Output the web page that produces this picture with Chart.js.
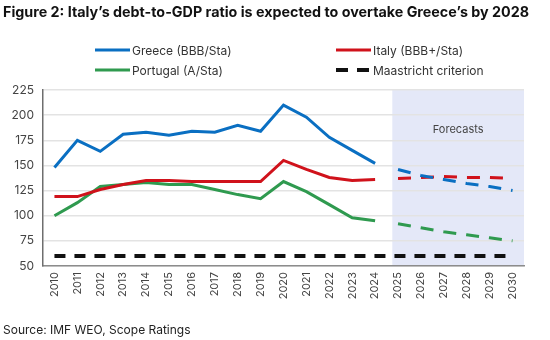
<!DOCTYPE html>
<html>
<head>
<meta charset="utf-8">
<script src="https://cdn.jsdelivr.net/npm/chart.js@4.4.1/dist/chart.umd.min.js"></script>
<style>
  html, body { margin: 0; padding: 0; background: #fff; }
  #wrap { position: relative; width: 550px; height: 340px; overflow: hidden; font-family: Inter, "Noto Sans", sans-serif; }
  #title { position: absolute; left: 3px; top: 3px; font-size: 14.3px; font-weight: 700; color: #111; white-space: nowrap; }
  #source { position: absolute; left: 3px; top: 322px; font-size: 12px; color: #222; white-space: nowrap; }
  #legend { position: absolute; left: 0; top: 0; }
  .item { position: absolute; display: flex; align-items: center; font-size: 12px; color: #333; white-space: nowrap; }
  .item canvas { margin-right: 2px; }
  #chart { position: absolute; left: 0; top: 0; }
</style>
</head>
<body>
<div id="wrap">
  <canvas id="chart" width="550" height="340"></canvas>
  <div id="title">Figure 2: Italy’s debt-to-GDP ratio is expected to overtake Greece’s by 2028</div>
  <div id="legend"></div>
  <div id="source">Source: IMF WEO, Scope Ratings</div>
</div>
<script>
const years = ['2010', '2011', '2012', '2013', '2014', '2015', '2016', '2017', '2018', '2019', '2020',
  '2021', '2022', '2023', '2024', '2025', '2026', '2027', '2028', '2029', '2030'];
const forecastFrom = '2025';

const greece = [148, 175, 164, 181, 183, 180, 184, 183, 190, 184, 210, 198, 178, 165, 152, 146, 140, 136, 132, 129, 125];
const italy = [119, 119, 126, 131, 135, 135, 134, 134, 134, 134, 155, 146, 138, 135, 136, 137, 138, 139, 138, 138, 137];
const portugal = [100, 113, 129, 131, 133, 131, 131, 126, 121, 117, 134, 124, 111, 98, 95, 92, 88, 84, 81, 78, 75];
const maastricht = [60, 60, 60, 60, 60, 60, 60, 60, 60, 60, 60, 60, 60, 60, 60, 60, 60, 60, 60, 60, 60];

const yTicks = [50, 75, 100, 125, 150, 175, 200, 225];

const cut = years.indexOf(forecastFrom);
const actual = arr => arr.map((v, i) => (i < cut ? v : null));
const forecast = arr => arr.map((v, i) => (i >= cut ? v : null));

const BLUE = '#0a6fc2';
const RED = '#d0121b';
const GREEN = '#2f9a4f';
const BLACK = '#111';

function line(label, data, color, dash, legend) {
  return {
    label, data,
    borderColor: color,
    backgroundColor: color,
    borderWidth: 3,
    borderDash: dash || [],
    pointRadius: 0,
    tension: 0,
    spanGaps: false,
    legendCol: legend ? legend[0] : null,
    legendRow: legend ? legend[1] : null
  };
}

// light band behind the forecast years, plus its caption
const forecastBand = {
  id: 'forecastBand',
  beforeDraw(chart) {
    const { ctx, chartArea, scales: { x } } = chart;
    const x1 = x.getPixelForValue(cut);
    const x0 = x1 - (x1 - x.getPixelForValue(cut - 1)) * 0.25;
    ctx.save();
    ctx.fillStyle = '#e4e8f8';
    ctx.fillRect(x0, chartArea.top, chartArea.right - x0, chartArea.bottom - chartArea.top);
    ctx.fillStyle = '#444';
    ctx.font = '11px Inter, "Noto Sans", sans-serif';
    ctx.textAlign = 'center';
    ctx.textBaseline = 'middle';
    ctx.fillText('Forecasts', (x0 + chartArea.right) / 2, chartArea.top + 40);
    ctx.restore();
  }
};

// two-column legend built from the datasets
const gridLegend = {
  id: 'gridLegend',
  afterUpdate(chart) {
    const box = document.getElementById('legend');
    box.innerHTML = '';
    const colX = [95, 336];
    const rowY = [50, 70];
    chart.data.datasets.forEach(ds => {
      if (ds.legendCol === null) return;
      const item = document.createElement('div');
      item.className = 'item';
      item.style.left = colX[ds.legendCol] + 'px';
      item.style.top = (rowY[ds.legendRow] - 8) + 'px';
      item.style.height = '16px';
      const sw = document.createElement('canvas');
      sw.width = 35; sw.height = 16;
      const c = sw.getContext('2d');
      c.strokeStyle = ds.borderColor;
      c.lineWidth = ds.borderWidth;
      c.setLineDash(ds.borderDash.length ? [12, 9] : []);
      c.beginPath(); c.moveTo(0, 8); c.lineTo(35, 8); c.stroke();
      item.appendChild(sw);
      item.appendChild(document.createTextNode(ds.label));
      box.appendChild(item);
    });
  }
};

new Chart(document.getElementById('chart'), {
  type: 'line',
  data: {
    labels: years,
    datasets: [
      line('Greece (BBB/Sta)', actual(greece), BLUE, null, [0, 0]),
      line('Italy (BBB+/Sta)', actual(italy), RED, null, [1, 0]),
      line('Portugal (A/Sta)', actual(portugal), GREEN, null, [0, 1]),
      Object.assign(line('Maastricht criterion', maastricht, BLACK, [11, 9], [1, 1]), { borderWidth: 4 }),
      line('Greece forecast', forecast(greece), BLUE, [13, 10]),
      line('Italy forecast', forecast(italy), RED, [13, 10]),
      line('Portugal forecast', forecast(portugal), GREEN, [13, 10])
    ]
  },
  options: {
    responsive: false,
    animation: false,
    layout: { padding: { left: 0, right: 26, top: 90, bottom: 0 } },
    plugins: { legend: { display: false }, tooltip: { enabled: false } },
    scales: {
      x: {
        offset: true,
        grid: { display: false, drawTicks: false },
        border: { color: '#8c8c8c', width: 1.5 },
        ticks: {
          autoSkip: false, minRotation: 90, maxRotation: 90, padding: 6,
          color: '#444', font: { family: 'Inter', size: 11 }
        },
        afterFit(scale) { scale.height = 74; }
      },
      y: {
        min: 50, max: 225,
        afterBuildTicks(scale) { scale.ticks = yTicks.map(v => ({ value: v })); },
        grid: { color: '#e3e3e3', lineWidth: 1.5, drawTicks: false },
        border: { color: '#6e6e6e', width: 1.5 },
        ticks: { padding: 9, color: '#444', font: { family: 'Inter', size: 12 } },
        afterFit(scale) { scale.width = 43; }
      }
    }
  },
  plugins: [forecastBand, gridLegend]
});
</script>
</body>
</html>
